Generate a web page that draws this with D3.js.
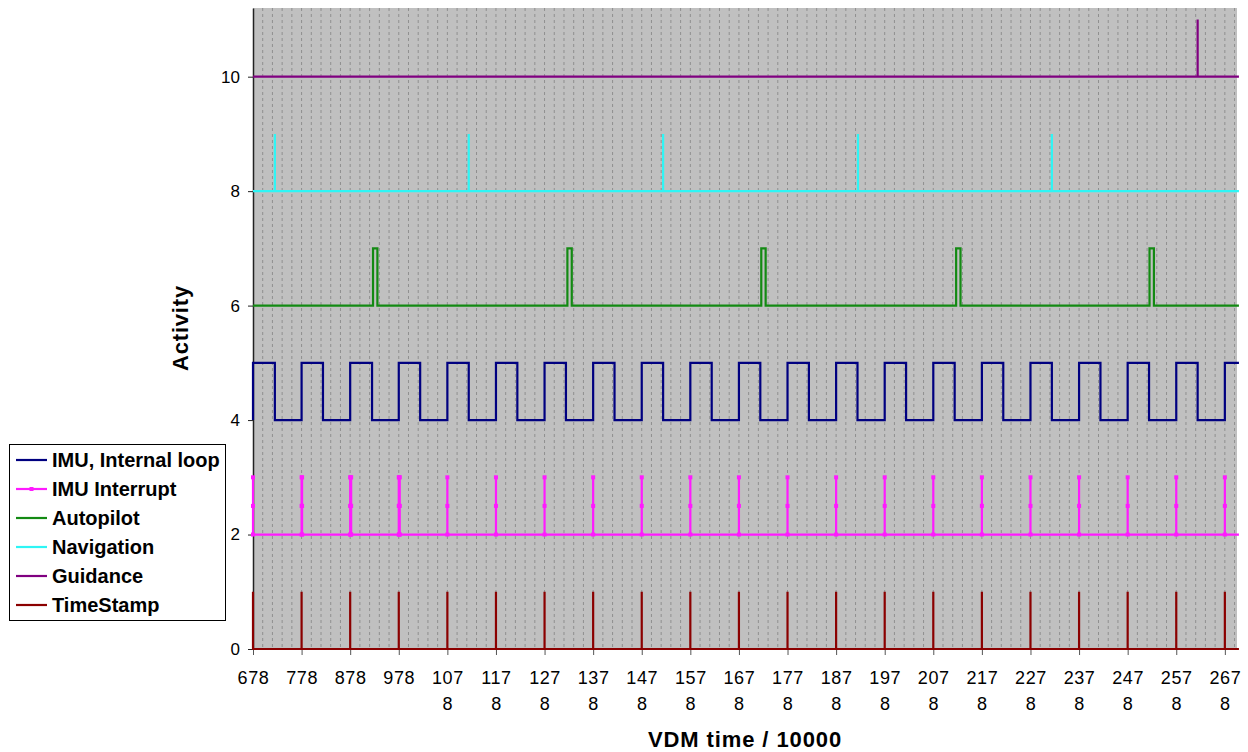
<!DOCTYPE html>
<html>
<head>
<meta charset="utf-8">
<script src="https://cdn.jsdelivr.net/npm/d3@7"></script>
<style>
  body { margin: 0; background: #fff; }
  svg text { font-family: "Liberation Sans", Arial, sans-serif; }
</style>
</head>
<body>
<div id="vis"></div>
<script>
// times are VDM time / 10000
const timeTicks = [678, 778, 878, 978, 1078, 1178, 1278, 1378, 1478, 1578, 1678,
  1778, 1878, 1978, 2078, 2178, 2278, 2378, 2478, 2578, 2678];
const tickLabels = ["678", "778", "878", "978", "1078", "1178", "1278", "1378", "1478", "1578", "1678",
  "1778", "1878", "1978", "2078", "2178", "2278", "2378", "2478", "2578", "2678"];
const yTicks = [0, 2, 4, 6, 8, 10];

const timeStamp = [678, 778, 878, 978, 1078, 1178, 1278, 1378, 1478, 1578, 1678,
  1778, 1878, 1978, 2078, 2178, 2278, 2378, 2478, 2578, 2678];
const imuInterrupt = [678, 778, 779, 878, 879, 880, 978, 979, 980, 1078, 1178, 1278, 1378, 1478, 1578, 1678,
  1778, 1878, 1978, 2078, 2178, 2278, 2378, 2478, 2578, 2678];
const imuLoopRise = [678, 778, 878, 978, 1078, 1178, 1278, 1378, 1478, 1578, 1678,
  1778, 1878, 1978, 2078, 2178, 2278, 2378, 2478, 2578, 2678];
const imuLoopFall = [723, 822, 923, 1022, 1122, 1222, 1322, 1422, 1522, 1622, 1722,
  1822, 1922, 2022, 2122, 2222, 2322, 2422, 2522, 2622];
const autopilotOn = [925, 1325, 1724, 2125, 2523];
const autopilotOff = [934, 1334, 1733, 2134, 2532];
const navigation = [723, 1122, 1522, 1923, 2322];
const guidance = [2622];

const startTime = 678, endTime = 2707;

const names = ["IMU, Internal loop", "IMU Interrupt", "Autopilot", "Navigation", "Guidance", "TimeStamp"];
const colors = ["#000080", "#ff1aff", "#138a13", "#2ef5f5", "#800080", "#8b0000"];

const width = 1248, height = 752;
const margin = {left: 253, right: 11, top: 8, bottom: 103};

const x = d3.scaleLinear().domain([678, 2703]).range([margin.left, width - margin.right]);
const y = d3.scaleLinear().domain([0, 11.2]).range([height - margin.bottom, margin.top]);

// helpers to turn event times into step points
function spikes(times, base, top) {
  const pts = [[startTime, base]];
  times.forEach(t => { pts.push([t, base], [t, top], [t, base]); });
  pts.push([endTime, base]);
  return pts;
}
function pulses(on, off, base, top) {
  const pts = [[startTime, base]];
  on.forEach((t, i) => { pts.push([t, base], [t, top], [off[i], top], [off[i], base]); });
  pts.push([endTime, base]);
  return pts;
}
function square(rise, fall, low, high) {
  const pts = [];
  rise.forEach((t, i) => {
    pts.push([t, low], [t, high]);
    if (fall[i] !== undefined) pts.push([fall[i], high], [fall[i], low]);
    else pts.push([endTime, high]);
  });
  return pts;
}

const series = [
  {name: names[0], color: colors[0], pts: square(imuLoopRise, imuLoopFall, 4, 5)},
  {name: names[1], color: colors[1], pts: spikes(imuInterrupt, 2, 3), markers: true},
  {name: names[2], color: colors[2], pts: pulses(autopilotOn, autopilotOff, 6, 7)},
  {name: names[3], color: colors[3], pts: spikes(navigation, 8, 9)},
  {name: names[4], color: colors[4], pts: spikes(guidance, 10, 11)},
  {name: names[5], color: colors[5], pts: spikes(timeStamp, 0, 1)}
];

const svg = d3.select("#vis").append("svg")
  .attr("width", width)
  .attr("height", height);

// plot area
svg.append("rect")
  .attr("x", x.range()[0])
  .attr("y", y.range()[1])
  .attr("width", x.range()[1] - x.range()[0])
  .attr("height", y.range()[0] - y.range()[1])
  .attr("fill", "#c0c0c0");

// dotted vertical grid every 20 units
svg.append("g")
  .selectAll("line")
  .data(d3.range(698, 2703, 20))
  .join("line")
    .attr("x1", d => x(d)).attr("x2", d => x(d))
    .attr("y1", y.range()[1]).attr("y2", y.range()[0])
    .attr("stroke", "#8f8f8f")
    .attr("stroke-width", 1)
    .attr("stroke-dasharray", "3,3");

const line = d3.line().x(d => x(d[0])).y(d => y(d[1]));

// y axis
const yAxis = svg.append("g")
  .attr("transform", `translate(${margin.left},0)`)
  .call(d3.axisLeft(y).tickValues(yTicks).tickSize(5).tickPadding(8).tickSizeOuter(0));
yAxis.select(".domain").attr("stroke", "#222").attr("stroke-width", 1.5);
yAxis.selectAll(".tick line").attr("stroke", "#222");
yAxis.selectAll("text").attr("font-size", 17).attr("fill", "#000");

// x axis
const xAxis = svg.append("g")
  .attr("transform", `translate(0,${y(0)})`)
  .call(d3.axisBottom(x).tickValues(timeTicks).tickSize(6).tickSizeOuter(0).tickFormat(""));
xAxis.select(".domain").attr("stroke", "#222");
xAxis.selectAll(".tick line").attr("stroke", "#555");
xAxis.selectAll(".tick").each(function(d, i) {
  const lab = tickLabels[i];
  const lines = lab.length > 3 ? [lab.slice(0, 3), lab.slice(3)] : [lab];
  const t = d3.select(this).append("text")
    .attr("fill", "#000")
    .attr("font-size", 18)
    .attr("letter-spacing", 0.6)
    .attr("text-anchor", "middle");
  lines.forEach((s, k) => {
    t.append("tspan").attr("x", 0).attr("y", 35 + k * 26).text(s);
  });
});

// series
series.forEach(s => {
  svg.append("path")
    .datum(s.pts)
    .attr("fill", "none")
    .attr("stroke", s.color)
    .attr("stroke-width", 2.2)
    .attr("d", line);
});

// interrupt markers
svg.append("g")
  .selectAll("rect")
  .data(imuInterrupt.flatMap(t => [[t, 2], [t, 2.5], [t, 3]]))
  .join("rect")
    .attr("x", d => x(d[0]) - 2)
    .attr("y", d => y(d[1]) - 2)
    .attr("width", 4).attr("height", 4)
    .attr("fill", colors[1]);

// axis titles
svg.append("text")
  .attr("transform", "translate(188,328) rotate(-90)")
  .attr("text-anchor", "middle")
  .attr("font-size", 22)
  .attr("font-weight", "bold")
  .attr("letter-spacing", 0.8)
  .text("Activity");

svg.append("text")
  .attr("x", 745).attr("y", 747)
  .attr("text-anchor", "middle")
  .attr("font-size", 22)
  .attr("font-weight", "bold")
  .attr("letter-spacing", 0.9)
  .text("VDM time / 10000");

// legend
const legend = svg.append("g").attr("id", "legend");
legend.append("rect")
  .attr("x", 9.5).attr("y", 444.5)
  .attr("width", 216).attr("height", 176)
  .attr("fill", "#fff")
  .attr("stroke", "#000");

const item = legend.selectAll("g.item")
  .data(series)
  .join("g")
    .attr("class", "item")
    .attr("transform", (d, i) => `translate(0,${460 + i * 29})`);
item.append("line")
  .attr("x1", 16).attr("x2", 47)
  .attr("stroke", d => d.color)
  .attr("stroke-width", 2.2);
item.filter(d => d.markers).append("rect")
  .attr("x", 29.5).attr("y", -2).attr("width", 4).attr("height", 4)
  .attr("fill", d => d.color);
item.append("text")
  .attr("x", 52).attr("y", 7)
  .attr("font-size", 20)
  .attr("font-weight", "bold")
  .text(d => d.name);
</script>
</body>
</html>
